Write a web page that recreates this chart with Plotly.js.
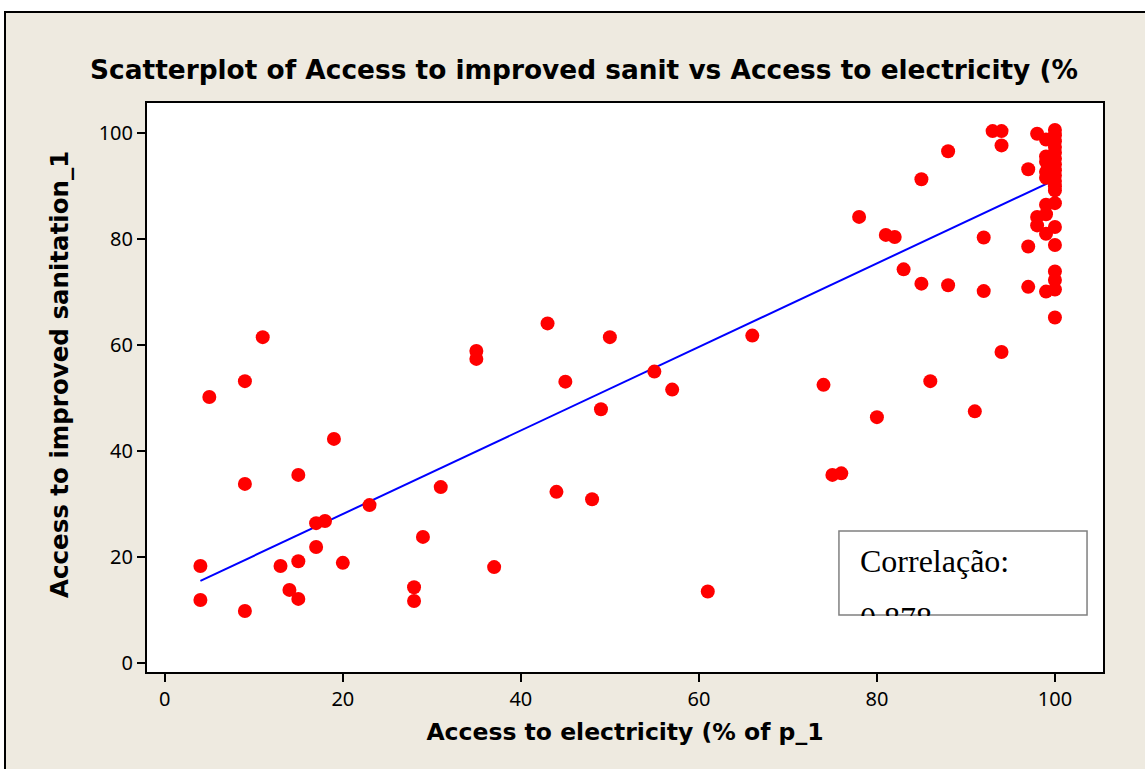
<!DOCTYPE html>
<html>
<head>
<meta charset="utf-8">
<script src="https://cdn.plot.ly/plotly-3.0.1.min.js"></script>
<style>
  html, body { margin: 0; padding: 0; background: #ffffff; overflow: hidden; }
  #frame { position: absolute; left: 4px; top: 11px; width: 1139px; height: 756px;
           border-left: 2px solid #000; border-top: 2px solid #000; background: #EEEAE0; }
  #plot { width: 1139px; height: 756px; }
</style>
</head>
<body>
<div id="frame"><div id="plot"></div></div>
<script>
// Access to electricity (% of population)
const electricity = [4, 4, 5, 9, 9, 9, 11, 13, 14, 15, 15, 15, 17, 17, 18, 19, 20, 23, 28, 28,
  29, 31, 35, 35, 37, 43, 44, 45, 48, 49, 50, 55, 57, 61, 66, 74, 75, 76, 78, 80,
  81, 82, 83, 85, 85, 86, 88, 88, 91, 92, 92, 93, 94, 94, 94, 97, 97, 97, 98, 98,
  98, 99, 99, 99, 99, 99, 99, 99, 99, 99, 100, 100, 100, 100, 100, 100, 100, 100, 100, 100,
  100, 100, 100, 100, 100, 100, 100, 100, 100];
// Access to improved sanitation
const sanitation = [18.3, 11.9, 50.2, 53.2, 33.8, 9.8, 61.5, 18.3, 13.8, 35.5, 19.2, 12.1, 26.4, 21.9, 26.8, 42.3, 18.9, 29.8, 14.3, 11.7,
  23.8, 33.2, 58.9, 57.4, 18.1, 64.1, 32.3, 53.1, 30.9, 47.9, 61.5, 55.0, 51.6, 13.5, 61.8, 52.5, 35.5, 35.8, 84.2, 46.4,
  80.8, 80.4, 74.3, 91.3, 71.6, 53.2, 96.6, 71.3, 47.5, 80.3, 70.2, 100.4, 100.4, 97.7, 58.7, 93.2, 78.6, 71.0, 99.9, 84.2,
  82.6, 98.8, 95.6, 94.6, 92.7, 91.6, 86.5, 84.7, 81.0, 70.1, 100.6, 99.6, 98.5, 97.4, 96.3, 95.2, 94.1, 93.0, 92.0, 91.0,
  90.0, 89.2, 86.8, 82.3, 78.9, 73.9, 72.3, 70.5, 65.2];
// Fitted line endpoints
const fitX = [4, 100];
const fitY = [15.5, 91.2];
const xTicks = [0, 20, 40, 60, 80, 100];
const yTicks = [0, 20, 40, 60, 80, 100];
const titleText = "Scatterplot of Access to improved sanit vs Access to electricity (%";
const xTitle = "Access to electricity (% of p_1";
const yTitle = "Access to improved sanitation_1";
const corrLabel = "Correlação:";
const corrValue = "0.878";

const traces = [
  { x: fitX, y: fitY, type: 'scatter', mode: 'lines',
    line: { color: '#0000FF', width: 2 }, hoverinfo: 'skip' },
  { x: electricity, y: sanitation, type: 'scatter', mode: 'markers',
    marker: { color: '#FF0000', size: 14, line: { width: 0 } } }
];

const axisCommon = {
  showline: true, linecolor: '#000', linewidth: 2, mirror: true,
  ticks: 'outside', ticklen: 8, tickwidth: 2, tickcolor: '#000',
  showgrid: false, zeroline: false,
  tickfont: { family: 'Noto Sans, DejaVu Sans, sans-serif', size: 20, color: '#000' }
};

const boldFont = (s) => ({ family: 'DejaVu Sans, sans-serif', size: s, color: '#000', weight: 'bold' });

const layout = {
  width: 1139, height: 756,
  paper_bgcolor: '#EEEAE0', plot_bgcolor: '#FFFFFF',
  showlegend: false,
  margin: { l: 141, r: 42, t: 90, b: 97 },
  title: { text: titleText, x: 0.5075, xref: 'container', xanchor: 'center',
           y: 0.925, yref: 'container', yanchor: 'middle', font: boldFont(26.4) },
  xaxis: Object.assign({}, axisCommon, {
    range: [-2.0, 105.4], tickvals: xTicks,
    title: { text: xTitle, standoff: 13, font: boldFont(23.5) }
  }),
  yaxis: Object.assign({}, axisCommon, {
    range: [-1.7, 105.7], tickvals: yTicks
  }),
  shapes: [{
    type: 'rect', xref: 'paper', yref: 'paper', layer: 'above',
    x0: 0.7238, x1: 0.9833, y0: 0.1002, y1: 0.2478,
    fillcolor: '#FFFFFF', line: { color: '#808080', width: 1.5 }
  }],
  annotations: [
    { text: yTitle, xref: 'paper', yref: 'paper', x: -0.091, y: 0.522,
      xanchor: 'center', yanchor: 'middle', textangle: -90, showarrow: false,
      font: boldFont(24.5) },
    { text: corrLabel, xref: 'paper', yref: 'paper', x: 0.7448, y: 0.2285,
      xanchor: 'left', yanchor: 'top', showarrow: false, borderpad: 0,
      font: { family: 'Liberation Serif, serif', size: 32, color: '#000' } },
    { text: corrValue, xref: 'paper', yref: 'paper', x: 0.7448, y: 0.1283,
      xanchor: 'left', yanchor: 'top', showarrow: false, borderpad: 0,
      height: 16, valign: 'top',
      font: { family: 'Liberation Serif, serif', size: 32, color: '#000' } }
  ]
};

Plotly.newPlot('plot', traces, layout, { displayModeBar: false, staticPlot: true });
</script>
</body>
</html>
